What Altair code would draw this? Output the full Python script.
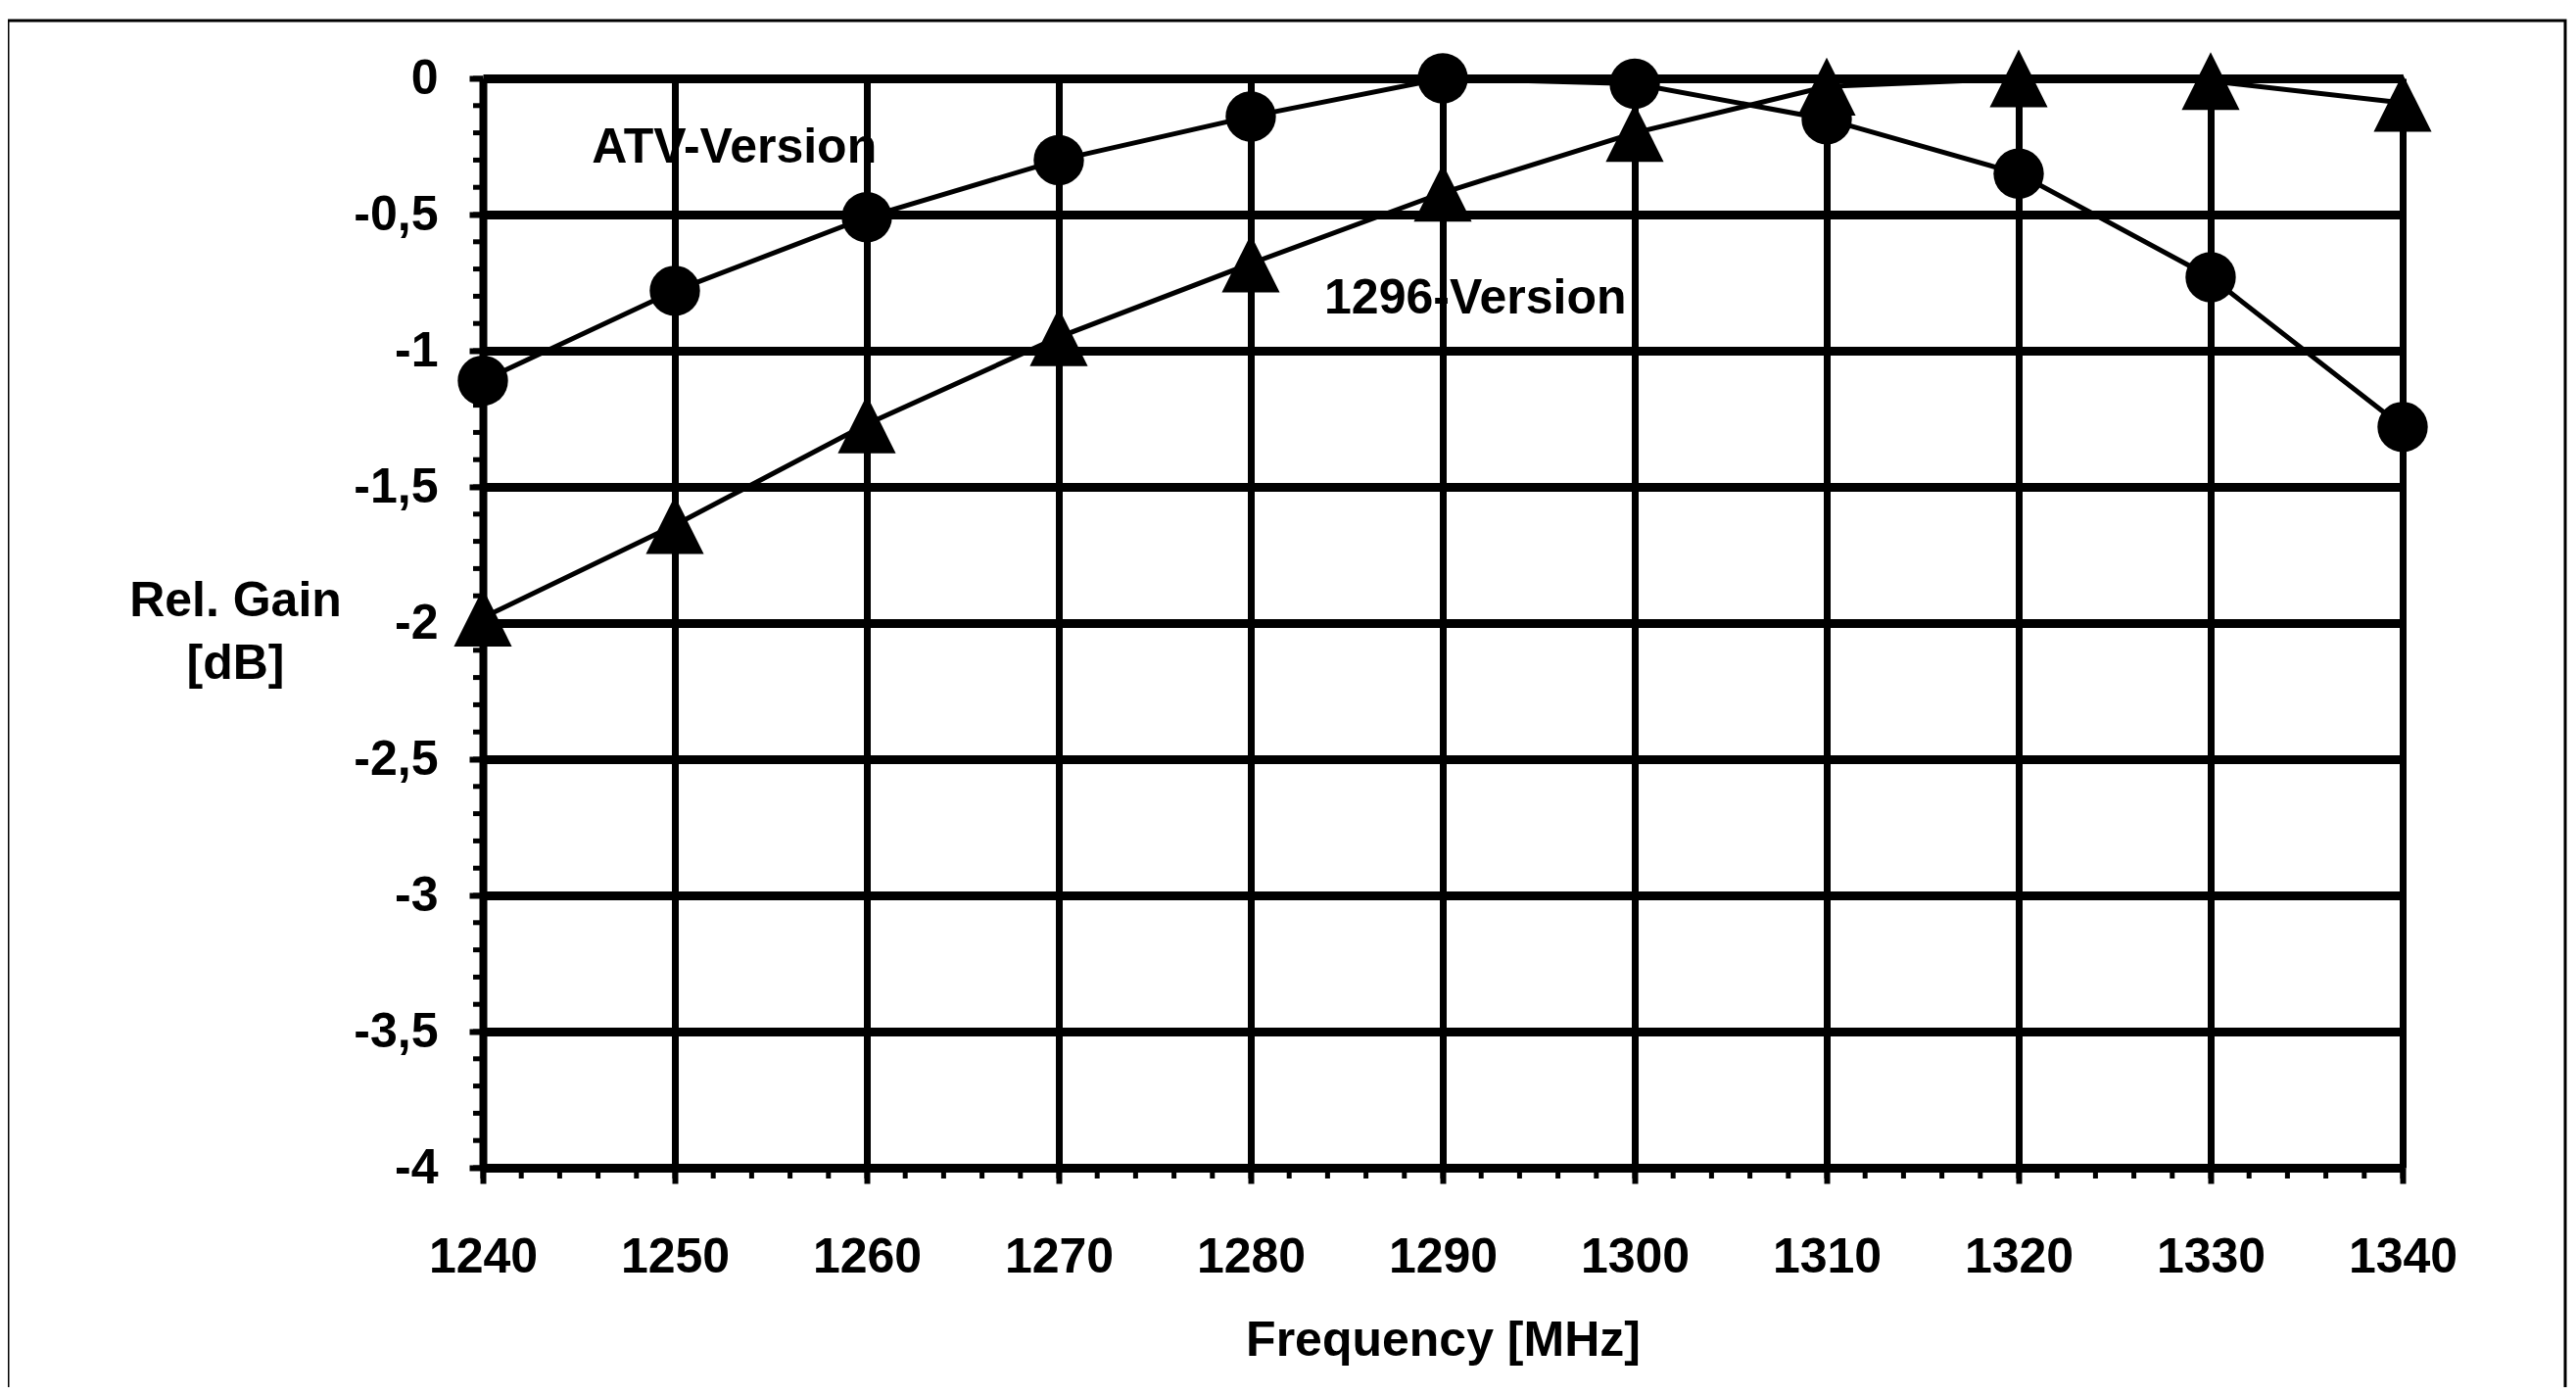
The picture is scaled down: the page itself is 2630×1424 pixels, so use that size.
import altair as alt
import pandas as pd

# ---- data ----
freq = [1240, 1250, 1260, 1270, 1280, 1290, 1300, 1310, 1320, 1330, 1340]
atv_gain = [-1.11, -0.78, -0.51, -0.30, -0.14, 0.0, -0.02, -0.15, -0.35, -0.73, -1.28]
v1296_gain = [-1.98, -1.64, -1.27, -0.95, -0.68, -0.42, -0.20, -0.03, 0.0, -0.01, -0.09]
series_names = ["ATV-Version", "1296-Version"]

x_ticks = [1240, 1250, 1260, 1270, 1280, 1290, 1300, 1310, 1320, 1330, 1340]
y_ticks = [0, -0.5, -1, -1.5, -2, -2.5, -3, -3.5, -4]
x_minor = [1240, 1242, 1244, 1246, 1248, 1250, 1252, 1254, 1256, 1258, 1260, 1262, 1264, 1266,
           1268, 1270, 1272, 1274, 1276, 1278, 1280, 1282, 1284, 1286, 1288, 1290, 1292, 1294,
           1296, 1298, 1300, 1302, 1304, 1306, 1308, 1310, 1312, 1314, 1316, 1318, 1320, 1322,
           1324, 1326, 1328, 1330, 1332, 1334, 1336, 1338, 1340]
y_minor = [0, -0.1, -0.2, -0.3, -0.4, -0.5, -0.6, -0.7, -0.8, -0.9, -1, -1.1, -1.2, -1.3, -1.4,
           -1.5, -1.6, -1.7, -1.8, -1.9, -2, -2.1, -2.2, -2.3, -2.4, -2.5, -2.6, -2.7, -2.8, -2.9,
           -3, -3.1, -3.2, -3.3, -3.4, -3.5, -3.6, -3.7, -3.8, -3.9, -4]

label_text = ["ATV-Version", "1296-Version"]
label_freq = [1253.1, 1291.7]
label_gain = [-0.31, -0.865]

FONT = "Liberation Sans"
FS = 50
W, H = 1960, 1112

rows = []
for f, g in zip(freq, atv_gain):
    rows.append({"freq": f, "gain": g, "series": series_names[0]})
for f, g in zip(freq, v1296_gain):
    rows.append({"freq": f, "gain": g, "series": series_names[1]})
df = pd.DataFrame(rows)

df_labels = pd.DataFrame({"freq": label_freq, "gain": label_gain, "text": label_text})
df_xminor = pd.DataFrame({"freq": x_minor})
df_yminor = pd.DataFrame({"gain": y_minor})

xscale = alt.Scale(domain=[1240, 1340], nice=False, zero=False)
yscale = alt.Scale(domain=[-4, 0], nice=False, zero=False)

xaxis = alt.Axis(
    values=x_ticks, title="Frequency [MHz]", grid=True, gridColor="black", gridWidth=7,
    gridOpacity=1, domainColor="black", domainWidth=8, tickColor="black", tickWidth=6,
    tickSize=16, labelFont=FONT, labelFontSize=FS, labelFontWeight="bold", labelColor="black",
    labelBaseline="alphabetic", labelPadding=90, labelFlush=False, labelOverlap=False,
    titleFont=FONT, titleFontSize=FS, titleFontWeight="bold", titleColor="black",
    titleBaseline="alphabetic", titleY=191, format="d",
)
yaxis = alt.Axis(
    values=y_ticks, title=["Rel. Gain", "[dB]"], grid=True, gridColor="black", gridWidth=9,
    gridOpacity=1, domainColor="black", domainWidth=8, tickColor="black", tickWidth=6,
    tickSize=14, labelFont=FONT, labelFontSize=FS, labelFontWeight="bold", labelColor="black",
    labelPadding=32, labelFlush=False, labelOverlap=False,
    labelExpr="replace(toString(datum.value), '.', ',')",
    titleFont=FONT, titleFontSize=FS, titleFontWeight="bold", titleColor="black",
    titleAngle=0, titleAlign="center", titleBaseline="alphabetic", titleX=-253, titleY=548,
    titleLineHeight=64,
)

X = alt.X("freq:Q", scale=xscale, axis=xaxis)
Y = alt.Y("gain:Q", scale=yscale, axis=yaxis)

lines = alt.Chart(df).mark_line(color="black", strokeWidth=5).encode(
    x=X, y=Y, detail="series:N"
)

points = alt.Chart(df).mark_point(filled=True, opacity=1, color="black").encode(
    x=X, y=Y,
    shape=alt.Shape("series:N", scale=alt.Scale(domain=series_names,
                                                range=["circle", "M0,-1L-1,1L1,1Z"]),
                    legend=None),
    size=alt.Size("series:N", scale=alt.Scale(domain=series_names, range=[2640, 3500]),
                  legend=None),
)

labels = alt.Chart(df_labels).mark_text(
    font=FONT, fontSize=FS, fontWeight="bold", color="black", align="center",
    baseline="alphabetic"
).encode(x=X, y=Y, text="text:N")

xminor = alt.Chart(df_xminor).mark_rule(color="black", strokeWidth=5).encode(
    x=X, y=alt.value(H), y2=alt.value(H + 11)
)
yminor = alt.Chart(df_yminor).mark_rule(color="black", strokeWidth=5).encode(
    y=Y, x=alt.value(-10), x2=alt.value(0)
)

frame = alt.Chart(alt.Data(values=[{}])).mark_rect(
    fill="transparent", stroke="black", strokeWidth=3
).encode(x=alt.value(-485), x2=alt.value(2126), y=alt.value(-59), y2=alt.value(1370))

chart = alt.layer(frame, xminor, yminor, lines, points, labels).properties(
    width=W, height=H,
    autosize=alt.AutoSizeParams(type="none"),
    padding={"left": 485, "top": 72, "right": 169, "bottom": 224},
    background="white",
).configure_view(stroke="transparent")

chart.save("out.html", embed_options={"renderer": "svg", "actions": False})
